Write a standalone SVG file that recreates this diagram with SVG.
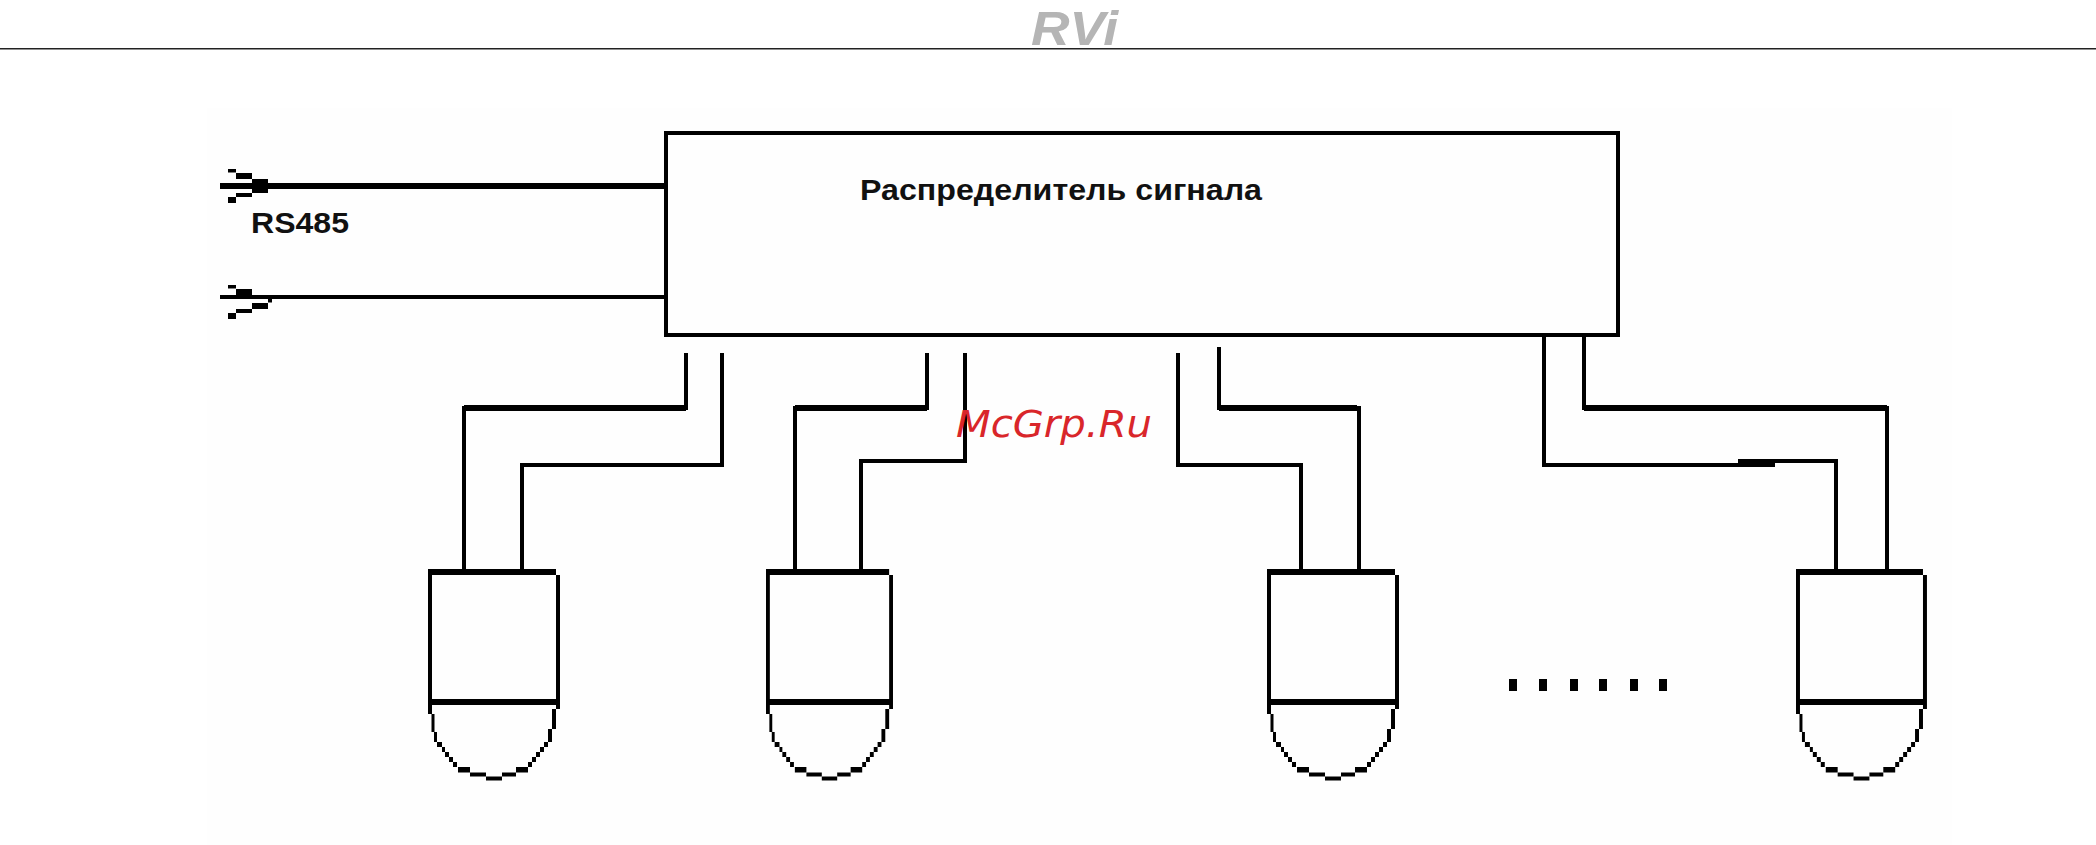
<svg xmlns="http://www.w3.org/2000/svg" width="2096" height="845" viewBox="0 0 2096 845">
<style>
.w{fill:none;stroke:#000;stroke-width:4;stroke-linejoin:miter}
.b{fill:#000}
.lbl{font-family:"Liberation Sans",Arial,sans-serif;font-weight:700;fill:#111}
</style>
<defs>
<g id="cam" class="b">
<rect x="0" y="0" width="128" height="6"/>
<rect x="0" y="0" width="4" height="145"/>
<rect x="128" y="6" width="4" height="134"/>
<rect x="2" y="130" width="128" height="6"/>
<rect x="3.500" y="145" width="3" height="18"/>
<rect x="6" y="163" width="3" height="10"/>
<rect x="9" y="173" width="5" height="5"/>
<rect x="14" y="178" width="3" height="5"/>
<rect x="17" y="183" width="4" height="5"/>
<rect x="21" y="188" width="4" height="5"/>
<rect x="25" y="193" width="4" height="5"/>
<rect x="30" y="198" width="12" height="5.500"/>
<rect x="42" y="203.500" width="16" height="4"/>
<rect x="58" y="207.500" width="16" height="4"/>
<rect x="74" y="203.500" width="14" height="4"/>
<rect x="88" y="198" width="12" height="5.500"/>
<rect x="100" y="193" width="4" height="5"/>
<rect x="104" y="188" width="4" height="5"/>
<rect x="108" y="183" width="4" height="5"/>
<rect x="112" y="178" width="4" height="5"/>
<rect x="116" y="173" width="4" height="5"/>
<rect x="120" y="160" width="4" height="13"/>
<rect x="124" y="140" width="4" height="20"/>
</g>
<g id="tipA" class="b">
<rect x="8" y="0" width="8" height="3.500"/>
<rect x="16" y="4" width="16" height="6"/>
<rect x="32" y="10" width="16" height="14"/>
<rect x="16" y="24" width="16" height="4"/>
<rect x="8" y="28" width="8" height="6"/>
</g>
<g id="tipB" class="b">
<rect x="8" y="0" width="8" height="3.500"/>
<rect x="16" y="4" width="16" height="8"/>
<rect x="48" y="14" width="4" height="3.500"/>
<rect x="32" y="18" width="16" height="6"/>
<rect x="16" y="24" width="16" height="4"/>
<rect x="8" y="28" width="8" height="6"/>
</g>
</defs>
<rect width="2096" height="845" fill="#fff"/>
<rect x="207" y="108" width="1745" height="737" fill="#fefefe"/>
<rect x="0" y="48" width="2096" height="1.500" fill="#222"/>
<text x="1031" y="45" font-family="'Liberation Sans',Arial,sans-serif" font-weight="700" font-style="italic" font-size="48" fill="#b5b5b5" textLength="87" lengthAdjust="spacingAndGlyphs">RVi</text>
<g id="connectors">
<path class="w" d="M220 186H666" style="stroke-width:6"/>
<path class="w" d="M220 297H666"/>
<path class="w" d="M686 353V408H464V572"/>
<path class="w" d="M722 353V465H522V572"/>
<path class="w" d="M927 353V408H795V572"/>
<path class="w" d="M965 353V461H861V572"/>
<path class="w" d="M1178 353V465H1301V572"/>
<path class="w" d="M1219 347V408H1359V572"/>
<path class="w" d="M1544 335V465H1775"/>
<path class="w" d="M1738 461H1836V572"/>
<rect x="1738" y="460" width="37" height="7" class="b"/>
<path class="w" d="M1584 335V408H1887V572"/>
<rect x="464" y="405" width="222" height="6" class="b"/>
<rect x="795" y="405" width="132" height="6" class="b"/>
<rect x="1219" y="405" width="138" height="6" class="b"/>
<rect x="1584" y="405" width="303" height="6" class="b"/>
</g>
<g id="distributor">
<rect class="w" x="666" y="133" width="952" height="202"/>
<text class="lbl" x="860" y="200" font-size="29" textLength="402" lengthAdjust="spacingAndGlyphs">Распределитель сигнала</text>
</g>
<g id="input-1">
<use href="#tipA" transform="translate(220,169)"/>
<text class="lbl" x="251" y="233" font-size="29" textLength="98" lengthAdjust="spacingAndGlyphs">RS485</text>
</g>
<g id="input-2">
<use href="#tipB" transform="translate(220,285)"/>
</g>
<g id="camera-1"><use href="#cam" transform="translate(428,569)"/></g>
<g id="camera-2"><use href="#cam" transform="translate(766,569) scale(.962,1)"/></g>
<g id="camera-3"><use href="#cam" transform="translate(1267,569)"/></g>
<g id="camera-4"><use href="#cam" transform="translate(1796,569) scale(.992,1)"/></g>
<g id="dots" class="b">
<rect x="1509" y="679" width="8" height="12"/>
<rect x="1539" y="679" width="8" height="12"/>
<rect x="1570" y="679" width="8" height="12"/>
<rect x="1599" y="679" width="8" height="12"/>
<rect x="1630" y="679" width="8" height="12"/>
<rect x="1659" y="679" width="8" height="12"/>
</g>
<text x="956" y="437" font-family="'DejaVu Sans',sans-serif" font-style="italic" font-size="37" fill="#d9262a" textLength="196" lengthAdjust="spacingAndGlyphs">McGrp.Ru</text>
</svg>
